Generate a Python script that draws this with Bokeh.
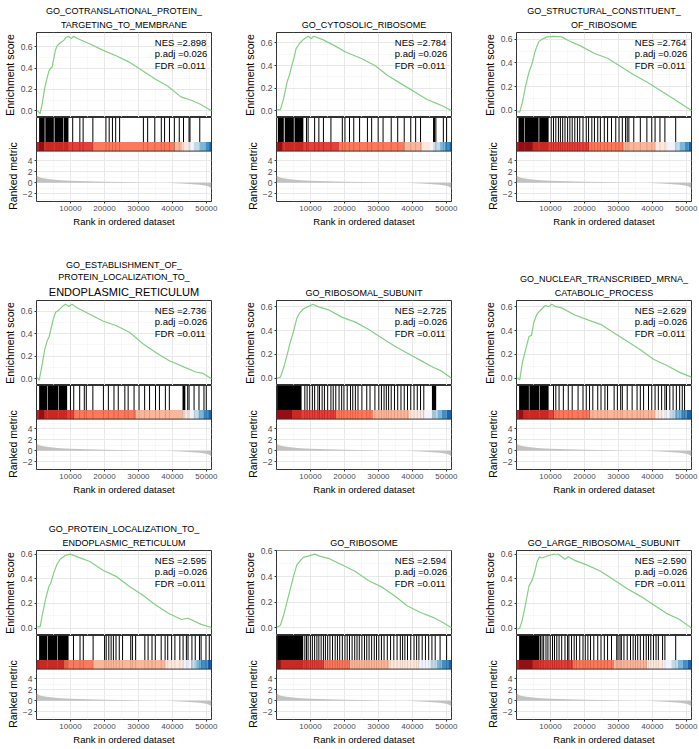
from bokeh.plotting import figure
from bokeh.layouts import row, column
from bokeh.models import (Range1d, LinearAxis, FixedTicker, PrintfTickFormatter,
                          Grid, Label, Title, Span)
from bokeh.embed import file_html
from bokeh.resources import INLINE

# ---------------- data ----------------
N_GENES = 51500

titles = [
    ["GO_COTRANSLATIONAL_PROTEIN_", "TARGETING_TO_MEMBRANE"],
    ["GO_CYTOSOLIC_RIBOSOME"],
    ["GO_STRUCTURAL_CONSTITUENT_", "OF_RIBOSOME"],
    ["GO_ESTABLISHMENT_OF_", "PROTEIN_LOCALIZATION_TO_", "ENDOPLASMIC_RETICULUM"],
    ["GO_RIBOSOMAL_SUBUNIT"],
    ["GO_NUCLEAR_TRANSCRIBED_MRNA_", "CATABOLIC_PROCESS"],
    ["GO_PROTEIN_LOCALIZATION_TO_", "ENDOPLASMIC_RETICULUM"],
    ["GO_RIBOSOME"],
    ["GO_LARGE_RIBOSOMAL_SUBUNIT"],
]
nes = ["2.898", "2.784", "2.764", "2.736", "2.725", "2.629", "2.595", "2.594", "2.590"]
padj = ["0.026"] * 9
fdr = ["0.011"] * 9

es_rank_1 = [290, 1050, 1730, 2400, 2970, 3640, 4120, 4600, 5080, 5560, 6040, 7000, 7960, 8730, 9400, 9880, 10360, 10840, 12750, 15630, 19470, 23300, 27140, 30980, 34810, 38650, 42490, 45360, 48240, 51500]
es_score_1 = [0.0, -0.028, 0.072, 0.21, 0.29, 0.37, 0.40, 0.41, 0.49, 0.57, 0.61, 0.64, 0.66, 0.69, 0.70, 0.69, 0.68, 0.70, 0.67, 0.63, 0.57, 0.52, 0.46, 0.38, 0.30, 0.23, 0.13, 0.10, 0.06, 0.0]
es_rank_2 = [190, 1150, 2110, 3070, 3840, 4510, 5180, 5750, 6900, 7860, 9300, 10260, 10930, 13620, 17450, 20330, 25130, 28960, 32800, 36630, 40470, 44300, 46700, 49100, 51500]
es_score_2 = [0.01, 0.01, 0.11, 0.25, 0.32, 0.40, 0.47, 0.55, 0.60, 0.63, 0.66, 0.64, 0.66, 0.63, 0.57, 0.52, 0.46, 0.40, 0.31, 0.24, 0.17, 0.10, 0.07, 0.04, 0.0]
es_rank_3 = [290, 960, 1740, 2700, 3660, 4630, 5590, 6560, 7520, 8970, 10890, 13300, 15230, 19090, 22940, 26800, 30660, 34510, 38370, 42220, 46080, 51500]
es_score_3 = [-0.01, -0.015, 0.07, 0.21, 0.32, 0.40, 0.51, 0.58, 0.60, 0.62, 0.625, 0.62, 0.59, 0.54, 0.48, 0.44, 0.37, 0.30, 0.24, 0.17, 0.10, 0.0]
es_rank_4 = [290, 780, 1750, 2430, 3200, 3690, 4170, 4950, 5630, 6600, 7570, 8540, 9510, 10480, 11930, 15810, 19690, 23570, 27450, 31330, 35210, 39090, 42970, 46850, 48790, 51500]
es_score_4 = [0.01, -0.015, 0.14, 0.26, 0.34, 0.37, 0.43, 0.53, 0.59, 0.61, 0.64, 0.66, 0.64, 0.66, 0.63, 0.57, 0.51, 0.47, 0.41, 0.31, 0.23, 0.16, 0.11, 0.06, 0.05, 0.0]
es_rank_5 = [190, 1150, 2110, 3070, 4030, 4990, 5950, 6900, 7860, 9300, 10740, 12180, 15540, 19370, 23210, 27040, 30880, 34720, 38550, 42390, 46220, 48620, 51500]
es_score_5 = [0.0, 0.01, 0.09, 0.19, 0.30, 0.39, 0.50, 0.55, 0.58, 0.60, 0.62, 0.60, 0.57, 0.51, 0.47, 0.41, 0.34, 0.27, 0.21, 0.15, 0.09, 0.06, 0.0]
es_rank_6 = [290, 960, 1740, 2700, 3660, 4430, 5110, 6070, 7040, 8480, 9450, 10410, 11570, 13300, 17160, 21010, 24870, 28730, 32580, 36440, 40300, 44150, 48010, 51500]
es_score_6 = [0.005, -0.014, 0.135, 0.24, 0.35, 0.36, 0.47, 0.54, 0.57, 0.61, 0.60, 0.62, 0.60, 0.59, 0.53, 0.49, 0.45, 0.38, 0.31, 0.24, 0.16, 0.11, 0.05, 0.01]
es_rank_7 = [290, 1060, 1730, 2700, 3660, 4140, 5100, 6070, 7030, 8470, 9920, 10880, 12810, 15700, 19550, 23400, 27250, 31100, 34960, 38810, 42660, 44590, 48440, 51500]
es_score_7 = [0.01, 0.01, 0.11, 0.24, 0.34, 0.36, 0.45, 0.52, 0.56, 0.59, 0.60, 0.59, 0.57, 0.54, 0.47, 0.42, 0.34, 0.27, 0.19, 0.12, 0.07, 0.08, 0.03, 0.005]
es_rank_8 = [190, 1150, 2110, 3070, 4030, 4990, 5950, 6900, 7860, 9300, 11220, 12660, 15540, 19370, 23210, 27040, 30880, 34720, 38550, 42390, 46220, 49100, 51500]
es_score_8 = [0.005, 0.02, 0.10, 0.20, 0.30, 0.40, 0.49, 0.52, 0.55, 0.56, 0.575, 0.56, 0.54, 0.49, 0.44, 0.37, 0.32, 0.25, 0.17, 0.12, 0.08, 0.04, 0.0]
es_rank_9 = [290, 960, 1740, 2700, 3660, 4630, 5400, 6070, 6750, 7520, 8480, 9450, 10890, 12340, 14270, 15230, 17160, 21010, 24870, 28730, 32580, 36440, 40300, 44150, 48010, 51500]
es_score_9 = [-0.01, 0.0, 0.07, 0.20, 0.34, 0.39, 0.46, 0.54, 0.58, 0.57, 0.58, 0.59, 0.60, 0.60, 0.56, 0.58, 0.55, 0.51, 0.46, 0.39, 0.32, 0.26, 0.19, 0.12, 0.07, 0.0]

# hit positions (single genes) and dense runs of hits (start, end)
hits_1 = [10650, 12760, 13720, 16590, 20430, 21390, 22350, 23300, 24460, 31460, 32710, 34810, 36730, 37690, 39130, 40570, 42010, 43260, 44890, 45170, 48050]
dense_start_1 = [770, 2600, 5300, 8000]
dense_end_1 = [2400, 5100, 7850, 9400]
hits_2 = [8820, 9300, 11220, 12470, 13810, 16020, 19370, 20140, 21480, 22730, 24450, 26760, 28000, 29920, 31360, 33760, 35670, 37590, 39510, 40950, 42390, 46220, 46510, 46900, 49100, 50060]
dense_start_2 = [380, 2400, 5300]
dense_end_2 = [2150, 5100, 7900]
hits_3 = [10220, 10890, 11570, 12340, 12920, 13590, 14270, 15040, 15710, 16390, 17160, 17930, 18610, 19570, 20530, 21210, 22170, 22940, 23910, 24680, 25840, 26800, 27960, 29210, 30170, 31140, 32100, 32580, 33070, 34510, 36440, 38370, 39810, 40780, 42220, 43670, 46850]
dense_start_3 = [580, 2400, 6700]
dense_end_3 = [2250, 6500, 9450]
hits_4 = [9990, 10960, 12710, 14070, 14650, 16590, 19690, 21150, 22800, 24060, 26000, 26970, 28710, 30170, 31820, 33270, 35020, 36180, 37930, 39090, 44500, 44900, 46370, 47820, 49280, 49960]
dense_start_4 = [780, 3300, 6500, 42970]
dense_end_4 = [3150, 6350, 9020, 43800]
hits_5 = [8340, 9010, 9780, 10550, 11220, 12180, 12660, 13430, 14100, 15060, 16020, 16690, 17450, 18410, 19180, 19850, 20810, 21770, 22440, 23210, 23980, 25130, 26560, 27520, 28960, 30110, 30880, 31650, 32320, 32990, 33760, 34720, 35670, 36630, 37590, 38550, 39510, 40470, 41430, 42390, 43350]
dense_start_5 = [190, 45740]
dense_end_5 = [7380, 46990]
hits_6 = [10890, 11570, 12530, 13790, 15230, 16390, 18120, 19570, 20530, 21500, 22460, 23910, 24870, 26030, 26800, 28730, 29690, 30660, 31140, 32580, 34030, 35480, 36440, 37400, 38850, 39810, 40780, 41740, 42710, 43670, 44150, 45110, 46080, 47040, 48010, 48780, 49460]
dense_start_6 = [770, 3800, 6800]
dense_end_6 = [3650, 6650, 9450]
hits_7 = [10880, 12810, 13770, 16660, 20030, 20510, 21280, 21960, 22630, 23400, 24360, 25330, 27730, 28220, 29180, 31880, 32840, 33990, 34960, 36690, 37850, 38620, 39770, 40730, 42180, 43140, 44110, 44590, 45740, 46710, 47960, 48440, 49880, 50850]
dense_start_7 = [770, 3300, 6300]
dense_end_7 = [3150, 6150, 9440]
hits_8 = [8340, 8820, 9300, 9970, 10550, 11220, 11890, 12470, 13140, 13810, 14390, 15060, 15730, 16490, 17260, 17930, 18600, 19370, 20140, 20810, 21480, 22250, 23020, 23690, 24360, 25130, 25890, 26560, 27240, 28000, 28770, 29440, 30110, 30880, 31650, 32610, 33570, 34520, 35480, 36440, 37110, 37780, 38550, 39510, 40470, 41240, 41910, 42870, 43830, 44790, 45740, 46700, 48140, 50060]
dense_start_8 = [190]
dense_end_8 = [7860]
hits_9 = [7040, 7520, 8000, 8680, 9250, 9930, 10600, 11180, 11860, 12530, 13300, 14270, 15040, 15420, 16200, 16970, 17640, 18610, 19570, 20240, 21010, 21790, 22750, 23910, 24870, 25840, 26800, 27960, 29500, 29880, 30460, 30850, 31620, 32580, 33550, 34320, 34990, 35670, 36440, 37400, 38170, 38850, 39520, 40300, 41070, 41740, 42990, 43670, 46850]
dense_start_9 = [770]
dense_end_9 = [6750]

# colour strip segment edges (ranks)
bar_edges_1 = [0, 2200, 16600, 40600, 43000, 44900, 46300, 48200, 49700, 50800, 51500]
bar_edges_2 = [0, 1630, 18410, 37590, 42870, 45260, 46700, 48140, 49580, 50830, 51500]
bar_edges_3 = [0, 4630, 21500, 31600, 40800, 44600, 46600, 48000, 49500, 50700, 51500]
bar_edges_4 = [0, 2230, 10960, 29390, 42970, 44910, 46370, 47820, 49280, 50540, 51500]
bar_edges_5 = [0, 4510, 17450, 28480, 39030, 43350, 45740, 47370, 48620, 50060, 51500]
bar_edges_6 = [0, 1930, 10890, 21500, 40780, 43190, 45310, 46560, 48490, 50130, 51500]
bar_edges_7 = [0, 770, 7990, 16660, 37850, 43140, 45550, 46990, 48440, 50360, 51500]
bar_edges_8 = [0, 1150, 14100, 21770, 33280, 41910, 45260, 47180, 48620, 50540, 51500]
bar_edges_9 = [0, 4630, 16680, 28730, 38370, 43190, 45600, 47520, 48970, 50420, 51500]
bar_colors = ["#A50F15", "#DE2D26", "#FB6A4A", "#FCAE91", "#FEE5D9",
              "#EFF3FF", "#BDD7E7", "#6BAED6", "#3182BD", "#08519C"]

# ranked list metric (shared by all panels)
metric_rank = [1, 300, 1000, 2000, 4000, 7000, 10000, 15000, 20000, 25000, 30000, 35000, 38000, 41000, 44000, 46000, 48000, 49500, 50500, 51200, 51500]
metric_value = [1.5, 1.2, 1.0, 0.85, 0.65, 0.48, 0.38, 0.28, 0.2, 0.14, 0.08, 0.03, 0.0, -0.08, -0.18, -0.26, -0.36, -0.48, -0.62, -0.85, -1.1]

rank_ticks = [10000, 20000, 30000, 40000, 50000]
rank_minor = [5000, 15000, 25000, 35000, 45000]
es_ticks = [0.0, 0.2, 0.4, 0.6]
es_minor = [-0.1, 0.1, 0.3, 0.5, 0.7]
metric_ticks = [-2, 0, 2, 4]
metric_minor = [-3, -1, 1, 3, 5]
MET_LO, MET_HI = -3.4, 5.8

es_ranks = [es_rank_1, es_rank_2, es_rank_3, es_rank_4, es_rank_5, es_rank_6, es_rank_7, es_rank_8, es_rank_9]
es_scores = [es_score_1, es_score_2, es_score_3, es_score_4, es_score_5, es_score_6, es_score_7, es_score_8, es_score_9]
hits = [hits_1, hits_2, hits_3, hits_4, hits_5, hits_6, hits_7, hits_8, hits_9]
dense_starts = [dense_start_1, dense_start_2, dense_start_3, dense_start_4, dense_start_5, dense_start_6, dense_start_7, dense_start_8, dense_start_9]
dense_ends = [dense_end_1, dense_end_2, dense_end_3, dense_end_4, dense_end_5, dense_end_6, dense_end_7, dense_end_8, dense_end_9]
bar_edges = [bar_edges_1, bar_edges_2, bar_edges_3, bar_edges_4, bar_edges_5, bar_edges_6, bar_edges_7, bar_edges_8, bar_edges_9]

# ---------------- style / layout ----------------
FONT = "Liberation Sans"
BORDER = "#333333"
ES_COLOR = "#84CF84"
GREY = "#C2C2C2"
GRID_MAJOR = "#E8E8E8"
GRID_MINOR = "#F3F3F3"
LEFT = 33
FRAME_W = 178
RIGHTS = [29, 29, 7]
TOPS = [32, 71, 53]
ES_H = 85
HITS_H = 34
MET_H = 51
BOT_H = HITS_H + MET_H
BOTTOM = 27
YLAB_SIZE = 10.5
YLAB_LEN = 6.45 * YLAB_SIZE  # rendered length of "Ranked metric"


def base_fig(width, height, y_range, top, bottom, right, extra=None):
    kw = dict(width=width, height=height, x_range=Range1d(0, N_GENES), y_range=y_range,
              x_axis_location=None, y_axis_location=None, toolbar_location=None,
              output_backend="svg", title=None,
              min_border_left=LEFT, min_border_right=right,
              min_border_top=top, min_border_bottom=bottom,
              outline_line_color=BORDER, outline_line_width=1,
              background_fill_color="white", border_fill_color="white")
    if extra:
        kw["extra_y_ranges"] = extra
    p = figure(**kw)
    p.center = [r for r in p.center if not isinstance(r, Grid)]
    return p


def style_axis(ax, label_size, tick_size):
    ax.axis_line_color = None
    ax.major_tick_line_color = BORDER
    ax.major_tick_out = 2
    ax.major_tick_in = 0
    ax.minor_tick_line_color = None
    ax.major_label_standoff = 2
    ax.axis_label_standoff = 2
    ax.major_label_text_font = FONT
    ax.major_label_text_font_size = tick_size
    ax.major_label_text_color = "#4D4D4D"
    ax.axis_label_text_font = FONT
    ax.axis_label_text_font_size = label_size
    ax.axis_label_text_font_style = "normal"
    ax.axis_label_text_color = "black"


def add_grid(p, dim, ticks, minor, cross=None):
    kw = dict(dimension=dim, ticker=FixedTicker(ticks=ticks, minor_ticks=minor),
              grid_line_color=GRID_MAJOR, grid_line_width=1,
              minor_grid_line_color=GRID_MINOR, minor_grid_line_width=0.6)
    if cross is not None:
        kw["cross_bounds"] = cross
    p.add_layout(Grid(**kw), "center")


def es_panel(i, top, right):
    ys = es_scores[i]
    lo, hi = min(ys), max(ys)
    span = hi - lo
    yr = Range1d(min(lo - 0.05 * span, -0.06), hi + 0.05 * span)
    p = base_fig(LEFT + FRAME_W + right, top + ES_H, yr, top, 0, right)
    add_grid(p, 0, rank_ticks, rank_minor)
    add_grid(p, 1, es_ticks, es_minor)
    ax = LinearAxis(ticker=FixedTicker(ticks=es_ticks),
                    formatter=PrintfTickFormatter(format="%.1f"),
                    axis_label="Enrichment score")
    style_axis(ax, "%gpx" % YLAB_SIZE, "8.5px")
    p.add_layout(ax, "left")
    p.line(es_ranks[i], ys, line_color=ES_COLOR, line_width=1.2)
    for k, txt in enumerate(["NES =" + nes[i], "p.adj =" + padj[i], "FDR =" + fdr[i]]):
        p.add_layout(Label(x=0.676 * N_GENES, y=yr.end, y_offset=-(4 + 11.5 * k),
                           text=txt, text_font=FONT, text_font_size="9.5px",
                           text_baseline="top", text_align="left", text_color="black"))
    lines = titles[i]
    for k, line in enumerate(reversed(lines)):
        big = line == "ENDOPLASMIC_RETICULUM" and len(lines) == 3
        p.add_layout(Title(text=line, align="center", text_font=FONT,
                           text_font_size="11px" if big else "9px",
                           text_font_style="normal", text_color="black",
                           standoff=5 if k == 0 else 0), "above")
    return p


def bottom_panel(i, right):
    yr = Range1d(MET_LO, MET_LO + (MET_HI - MET_LO) * BOT_H / MET_H)
    hr = Range1d(1 - BOT_H / HITS_H, 1)
    q = base_fig(LEFT + FRAME_W + right, BOT_H + BOTTOM, yr, 0, BOTTOM, right,
                 extra={"hits": hr})
    add_grid(q, 0, rank_ticks, rank_minor, cross=(MET_LO, MET_HI))
    add_grid(q, 1, metric_ticks, metric_minor)
    q.varea(x=metric_rank, y1=0, y2=metric_value, fill_color=GREY)
    q.quad(left=dense_starts[i], right=dense_ends[i], bottom=0, top=1,
           fill_color="black", line_color=None, y_range_name="hits")
    q.segment(x0=hits[i], y0=0, x1=hits[i], y1=1, line_color="black",
              line_width=1, y_range_name="hits")
    e = bar_edges[i]
    q.quad(left=e[:-1], right=e[1:], bottom=0, top=0.27, fill_color=bar_colors,
           fill_alpha=0.9, line_color=None, y_range_name="hits")
    q.add_layout(Span(location=0, dimension="width", y_range_name="hits",
                      line_color=BORDER, line_width=1))
    ay = LinearAxis(ticker=FixedTicker(ticks=metric_ticks), bounds=(MET_LO, MET_HI))
    style_axis(ay, "%gpx" % YLAB_SIZE, "8.5px")
    q.add_layout(ay, "left")
    # axis title centred on the metric part of the frame
    q.add_layout(Title(text="Ranked metric", align="left",
                       offset=MET_H / 2 - YLAB_LEN / 2, standoff=2,
                       text_font=FONT, text_font_size="%gpx" % YLAB_SIZE,
                       text_font_style="normal", text_color="black"), "left")
    ax = LinearAxis(ticker=FixedTicker(ticks=rank_ticks), axis_label="Rank in ordered dataset")
    style_axis(ax, "9.5px", "8px")
    q.add_layout(ax, "below")
    return q


rows = []
for r in range(3):
    cols = []
    for c in range(3):
        i = r * 3 + c
        cols.append(column(es_panel(i, TOPS[r], RIGHTS[c]), bottom_panel(i, RIGHTS[c]), spacing=0))
    rows.append(row(*cols, spacing=0))
layout = column(*rows, spacing=0)

open("out.html", "w").write(file_html(layout, INLINE))
